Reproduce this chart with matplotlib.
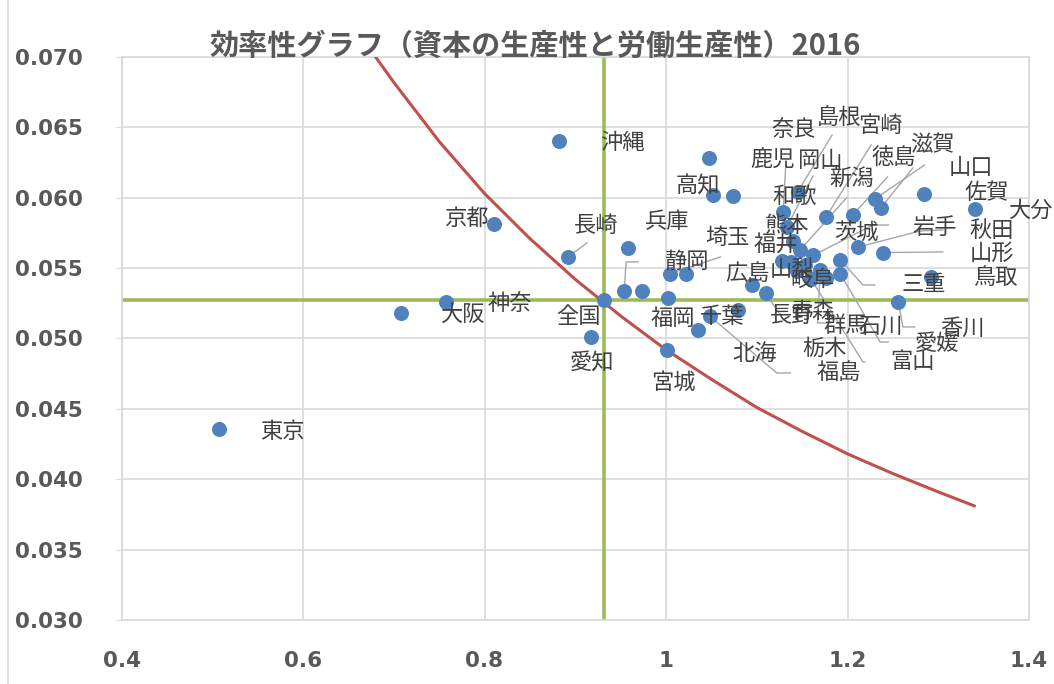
import matplotlib
matplotlib.use("Agg")
import matplotlib.pyplot as plt
from matplotlib.lines import Line2D

plt.rcParams['font.family'] = ['Noto Sans CJK JP', 'DejaVu Sans']

# prefecture name, capital productivity (x), labour productivity (y)
names = ['東京', '大阪', '神奈', '京都', '沖縄', '長崎', '全国', '愛知', '兵庫', '静岡',
         '福岡', '千葉', '埼玉', '広島', '宮城', '山梨', '北海', '青森', '高知', '奈良',
         '和歌', '岐阜', '長野', '鹿児', '島根', '岡山', '熊本', '福井', '栃木', '茨城',
         '群馬', '福島', '宮崎', '三重', '富山', '徳島', '岩手', '滋賀', '山口', '山形',
         '佐賀', '大分', '鳥取', '愛媛', '新潟', '石川', '香川', '秋田']
cap_prod = [0.507, 0.708, 0.758, 0.810, 0.882, 0.892, 0.932, 0.917, 0.958, 0.954,
            0.974, 1.002, 1.004, 1.022, 1.001, 1.035, 1.048, 1.079, 1.047, 1.052,
            1.074, 1.095, 1.110, 1.129, 1.145, 1.133, 1.140, 1.128, 1.138, 1.162,
            1.170, 1.160, 1.176, 1.192, 1.192, 1.206, 1.212, 1.230, 1.237, 1.239,
            1.284, 1.340, 1.292, 1.256, 1.148, 1.144, 1.153, 1.176]
lab_prod = [0.0436, 0.0518, 0.0526, 0.0581, 0.0640, 0.0558, 0.0527, 0.0501, 0.0564, 0.0534,
            0.0534, 0.0529, 0.0546, 0.0546, 0.0492, 0.0506, 0.0516, 0.0520, 0.0628, 0.0602,
            0.0601, 0.0538, 0.0532, 0.0590, 0.0604, 0.0579, 0.0569, 0.0555, 0.0554, 0.0559,
            0.0549, 0.0542, 0.0586, 0.0556, 0.0546, 0.0588, 0.0565, 0.0599, 0.0593, 0.0561,
            0.0603, 0.0592, 0.0544, 0.0526, 0.0563, 0.0548, 0.0552, 0.0543]

# iso-efficiency curve through the national value
curve_x = [0.68, 0.70, 0.75, 0.80, 0.85, 0.90, 0.95, 1.00, 1.05, 1.10, 1.15, 1.20, 1.25, 1.30, 1.34]
curve_y = [0.0700, 0.0682, 0.0640, 0.0603, 0.0571, 0.0542, 0.0516, 0.0492, 0.0471, 0.0451,
           0.0434, 0.0418, 0.0404, 0.0391, 0.0381]

# where each data label sits (moved by hand in the original)
label_pos = {
    '東京': (0.577, 0.04336), '大阪': (0.775, 0.05174), '神奈': (0.828, 0.05252),
    '京都': (0.781, 0.05856), '沖縄': (0.952, 0.06389), '長崎': (0.923, 0.05806),
    '全国': (0.904, 0.05153), '愛知': (0.918, 0.04826), '兵庫': (1.001, 0.05828),
    '静岡': (1.022, 0.05544), '福岡': (1.007, 0.05139), '千葉': (1.062, 0.05153),
    '埼玉': (1.068, 0.05714), '広島': (1.090, 0.05465), '宮城': (1.008, 0.04691),
    '北海': (1.098, 0.04897), '長野': (1.139, 0.05160), '山梨': (1.139, 0.05487),
    '高知': (1.035, 0.06083), '奈良': (1.141, 0.06488), '和歌': (1.142, 0.06012),
    '岐阜': (1.161, 0.05416), '青森': (1.162, 0.05189), '鹿児': (1.117, 0.06268),
    '島根': (1.191, 0.06574), '岡山': (1.170, 0.06268), '熊本': (1.133, 0.05806),
    '福井': (1.121, 0.05671), '栃木': (1.175, 0.04933), '茨城': (1.210, 0.05750),
    '群馬': (1.198, 0.05089), '福島': (1.190, 0.04762), '宮崎': (1.236, 0.06510),
    '三重': (1.284, 0.05387), '富山': (1.272, 0.04833), '徳島': (1.251, 0.06282),
    '岩手': (1.296, 0.05792), '滋賀': (1.294, 0.06375), '山口': (1.336, 0.06218),
    '山形': (1.359, 0.05607), '佐賀': (1.353, 0.06034), '大分': (1.401, 0.05913),
    '鳥取': (1.363, 0.05430), '愛媛': (1.299, 0.04968), '新潟': (1.205, 0.06140),
    '石川': (1.236, 0.05089), '香川': (1.327, 0.05075), '秋田': (1.359, 0.05764),
}

# leader line bends / ends for labels that were dragged away
leaders = {
    '長崎': [(0.913, 0.05679)],
    '静岡': [(0.956, 0.05544), (0.969, 0.05544)],
    '埼玉': [(1.060, 0.05579)],
    '北海': [(1.122, 0.04755), (1.137, 0.04755)],
    '長野': [(1.126, 0.05167)],
    '鹿児': [(1.132, 0.06233)],
    '島根': [(1.183, 0.06446)],
    '岡山': [(1.162, 0.06155)],
    '新潟': [(1.199, 0.06000)],
    '宮崎': [(1.226, 0.06375)],
    '徳島': [(1.244, 0.06147)],
    '滋賀': [(1.285, 0.06233)],
    '山口': [(1.272, 0.06211)],
    '茨城': [(1.228, 0.05806), (1.245, 0.05806)],
    '岩手': [(1.280, 0.05764), (1.305, 0.05771)],
    '山形': [(1.305, 0.05615)],
    '愛媛': [(1.261, 0.05082), (1.274, 0.05082)],
    '三重': [(1.217, 0.05380), (1.230, 0.05380)],
    '富山': [(1.236, 0.04975), (1.245, 0.04975)],
    '福島': [(1.217, 0.04833), (1.219, 0.04833)],
    '群馬': [(1.167, 0.05110), (1.181, 0.05110)],
}

fig = plt.figure(figsize=(10.54, 6.84), dpi=100)
ax = fig.add_axes([0.1153, 0.0936, 0.861, 0.8231])

nat_x = cap_prod[names.index('全国')]
nat_y = lab_prod[names.index('全国')]

ax.axhline(nat_y, color='#9BBB59', lw=2.6, zorder=2)
ax.axvline(nat_x, color='#9BBB59', lw=2.6, zorder=2)
ax.plot(curve_x, curve_y, color='#C0504D', lw=2.2, zorder=3,
        solid_joinstyle='round', solid_capstyle='round')

for n, x, y in zip(names, cap_prod, lab_prod):
    if n in leaders:
        xs = [x] + [p[0] for p in leaders[n]]
        ys = [y] + [p[1] for p in leaders[n]]
        ax.plot(xs, ys, color='#A6A6A6', lw=1.0, zorder=3)

ax.plot(cap_prod, lab_prod, 'o', color='#4F81BD', ms=10.8, mec='none', zorder=4)

for n in names:
    lx, ly = label_pos[n]
    ax.text(lx, ly, n, ha='center', va='center', fontsize=16, color='#404040',
            zorder=5, clip_on=False)

ax.set_xlim(0.4, 1.4)
ax.set_ylim(0.030, 0.070)
ax.set_xticks([0.4, 0.6, 0.8, 1.0, 1.2, 1.4])
ax.set_xticklabels(['0.4', '0.6', '0.8', '1', '1.2', '1.4'])
ax.set_yticks([0.030, 0.035, 0.040, 0.045, 0.050, 0.055, 0.060, 0.065, 0.070])
ax.set_yticklabels(['0.030', '0.035', '0.040', '0.045', '0.050', '0.055', '0.060', '0.065', '0.070'])
for lab in ax.get_xticklabels() + ax.get_yticklabels():
    lab.set_family('DejaVu Sans')
    lab.set_fontweight('bold')
    lab.set_color('#595959')
    lab.set_fontsize(15.5)
ax.tick_params(axis='y', length=4, color='#D9D9D9', pad=24)
ax.tick_params(axis='x', length=0, pad=22)
ax.grid(True, color='#D9D9D9', lw=1.2, zorder=0)
ax.set_axisbelow(True)
for s in ax.spines.values():
    s.set_color('#D9D9D9')
    s.set_linewidth(1.2)

fig.text(0.508, 0.933, '効率性グラフ（資本の生産性と労働生産性）2016', ha='center', va='center',
         fontsize=21, fontweight='bold', color='#595959')
fig.add_artist(Line2D([0.0076, 0.0076], [0, 1], color='#D9D9D9', lw=1.2))

fig.savefig('out.png', dpi=100)
